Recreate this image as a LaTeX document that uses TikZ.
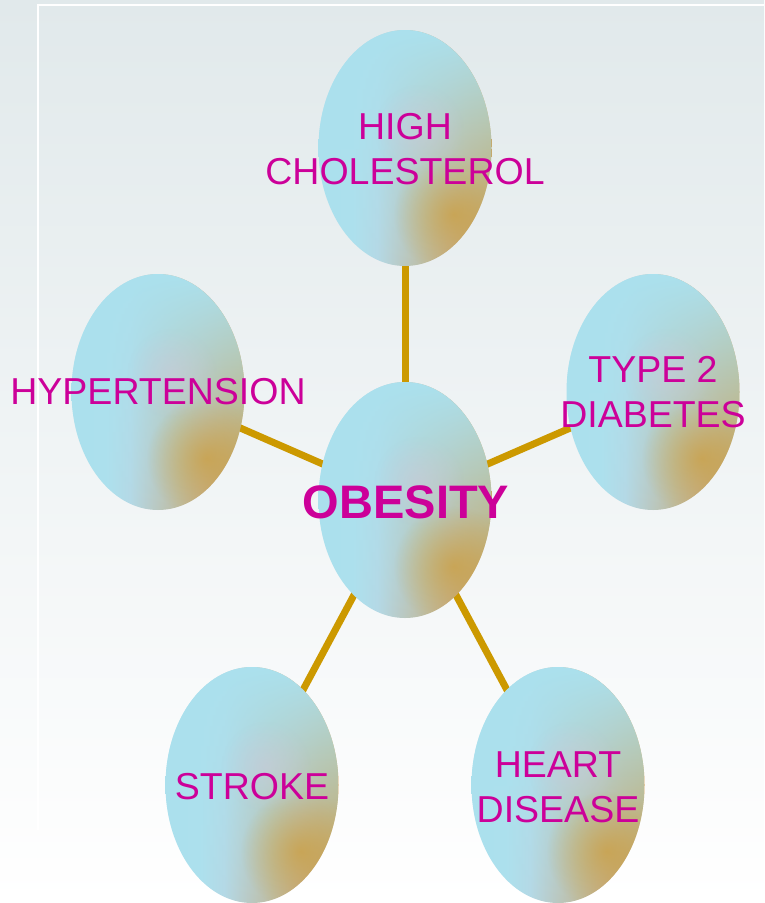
\documentclass[tikz,border=0pt]{standalone}
\usepackage{fontspec}
\setmainfont{Liberation Sans}
\usetikzlibrary{shapes.geometric,backgrounds,fadings,calc}

\definecolor{bgtop}{RGB}{225,233,235}
\definecolor{bgmid}{RGB}{236,240,245}
\definecolor{bgbot}{RGB}{255,255,255}
\definecolor{blobblue}{RGB}{171,225,238}
\definecolor{blobpink}{RGB}{206,200,218}
\definecolor{blobgold}{RGB}{204,158,60}
\definecolor{linkgold}{RGB}{204,153,0}
\definecolor{labelpink}{RGB}{204,0,153}

\pgfdeclarehorizontalshading{blobshade}{100bp}{%
  rgb(0bp)=(0.67,0.88,0.93); rgb(25bp)=(0.67,0.88,0.93); rgb(35bp)=(0.68,0.88,0.93);
  rgb(42bp)=(0.71,0.85,0.90); rgb(49bp)=(0.73,0.79,0.77);
  rgb(56bp)=(0.75,0.74,0.63); rgb(63bp)=(0.78,0.68,0.52);
  rgb(69bp)=(0.79,0.64,0.40); rgb(75bp)=(0.79,0.62,0.32); rgb(100bp)=(0.79,0.62,0.32)}
\tikzfading[name=blobfade, top color=transparent!0, middle color=transparent!60, bottom color=transparent!100]
\tikzfading[name=spotfade, inner color=transparent!0, outer color=transparent!100]

\tikzset{
  blob/.style={ellipse, minimum width=173pt, minimum height=236pt, inner sep=0pt,
    shading=blobshade,
    path picture={
      \fill[blobblue, path fading=blobfade] (path picture bounding box.south west) rectangle (path picture bounding box.north east);
      \fill[blobpink, opacity=0.5, path fading=spotfade]
        ($(path picture bounding box.south west)!0.58!(path picture bounding box.north east)$) circle (45pt);
      \fill[blobgold, opacity=0.7, path fading=spotfade]
        ($(path picture bounding box.south east)!0.22!(path picture bounding box.north west)$) circle (60pt);
    }},
  tag/.style={text=labelpink, align=center, inner sep=0pt, font=\fontsize{37.5}{45}\selectfont},
  bigtag/.style={tag, font=\fontsize{47}{56}\selectfont\bfseries},
  link/.style={draw=linkgold, line width=7pt},
}

\begin{document}
\begin{tikzpicture}[x=1pt,y=1pt,yscale=-1,xscale=1]
\useasboundingbox (0,0) rectangle (764,903);

% Shape: Ellipse
\node[blob] (chol) at (405,148) {};
\node[blob] (hyper) at (158,392) {};
\node[blob] (diab) at (653,392) {};
\node[blob] (obes) at (405,500) {};
\node[blob] (stroke) at (252,785) {};
\node[blob] (heart) at (558,785) {};

% Text Node
\node[tag] at (405,149) {HIGH\\CHOLESTEROL};
\node[tag] at (158,392) {HYPERTENSION};
\node[tag] at (653,392) {TYPE 2\\DIABETES};
\node[bigtag] at (406,502) {OBESITY};
\node[tag] at (252,787) {STROKE};
\node[tag] at (558,787) {HEART\\DISEASE};

\begin{scope}[on background layer]
  \shade[top color=bgtop, middle color=bgmid, bottom color=bgbot] (0,0) rectangle (764,903);
  \draw[white, line width=1.5pt] (38,830) -- (38,5) -- (764,5);
  %Straight Lines
  \draw[link] (obes.center) -- (chol.center);
  \draw[link] (obes.center) -- (hyper.center);
  \draw[link] (obes.center) -- (diab.center);
  \draw[link] (obes.center) -- (stroke.center);
  \draw[link] (obes.center) -- (heart.center);
\end{scope}
\end{tikzpicture}
\end{document}
